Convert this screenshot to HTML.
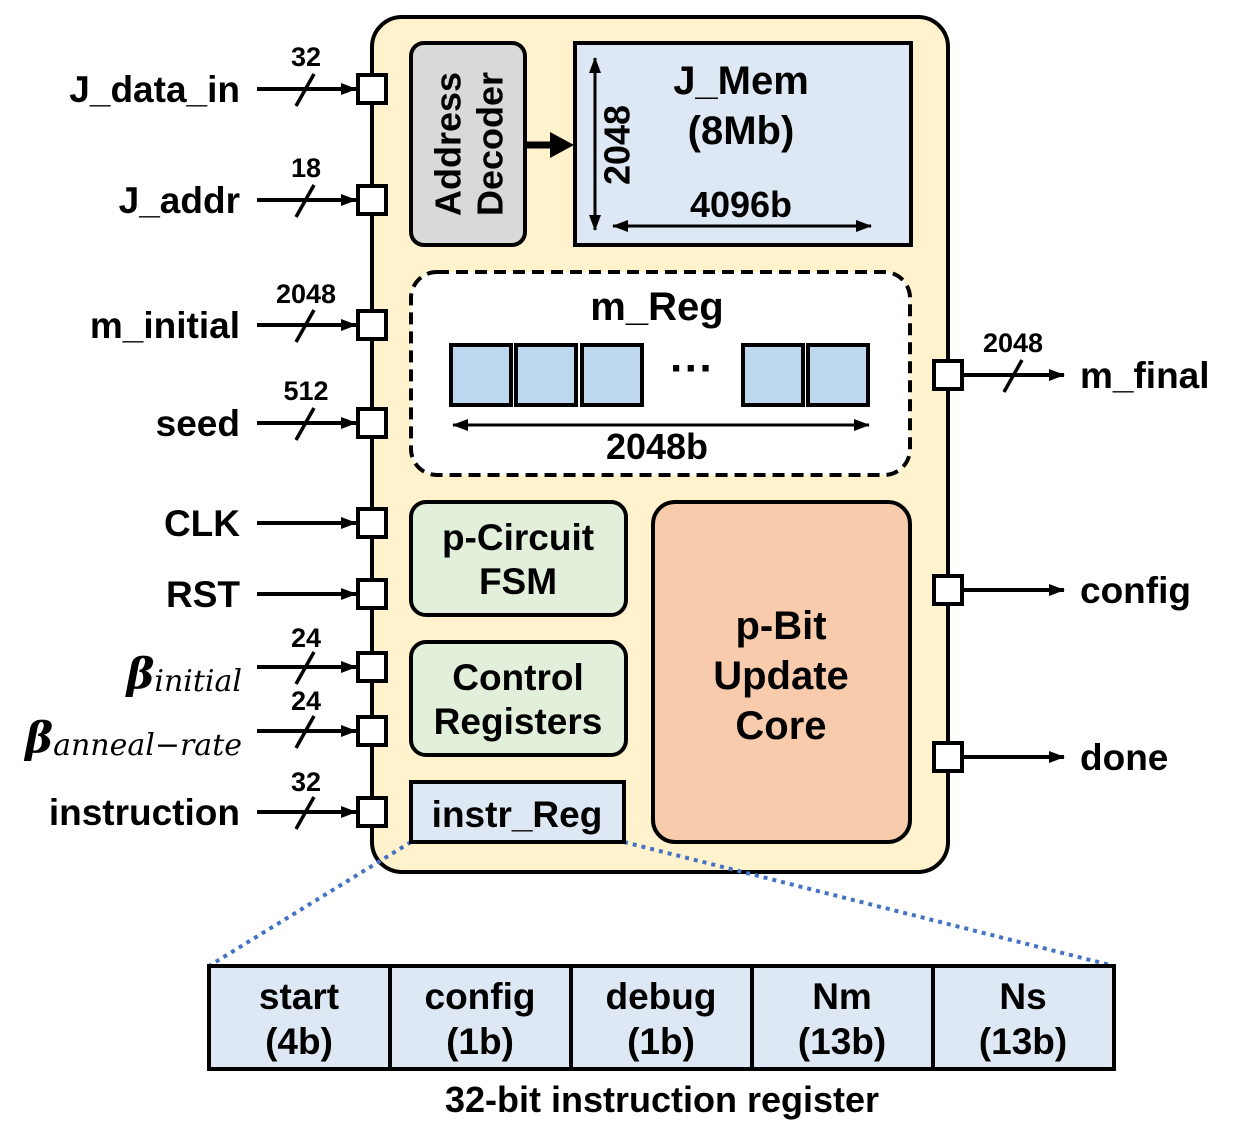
<!DOCTYPE html>
<html><head><meta charset="utf-8"><style>
html,body{margin:0;padding:0;background:#fff}
svg{display:block}
text{font-family:"Liberation Sans",Arial,sans-serif;font-weight:bold;fill:#000}
</style></head><body>
<svg width="1253" height="1130" viewBox="0 0 1253 1130" xmlns="http://www.w3.org/2000/svg">
<defs>
<marker id="a2" viewBox="0 0 16 12" refX="15" refY="6" markerWidth="16" markerHeight="12" orient="auto-start-reverse" markerUnits="userSpaceOnUse"><path d="M0,0 L16,6 L0,12 z" fill="#000"/></marker>
</defs>
<rect x="372" y="17" width="576" height="855" rx="30" fill="#fff2cc" stroke="#000" stroke-width="4"/>
<line x1="411" y1="842" x2="209" y2="966" stroke="#4472c4" stroke-width="4" stroke-dasharray="4,5"/>
<line x1="624" y1="842" x2="1114" y2="966" stroke="#4472c4" stroke-width="4" stroke-dasharray="4,5"/>
<rect x="411" y="43" width="114" height="202" rx="13" fill="#d9d9d9" stroke="#000" stroke-width="4"/>
<text transform="translate(448,144) rotate(-90)" font-size="36" text-anchor="middle" dominant-baseline="central">Address</text>
<text transform="translate(490,144) rotate(-90)" font-size="36" text-anchor="middle" dominant-baseline="central">Decoder</text>
<line x1="525" y1="145" x2="556" y2="145" stroke="#000" stroke-width="7"/>
<path d="M550,132 L574,145 L550,158 z" fill="#000"/>
<rect x="575" y="43" width="336" height="202" fill="#dee8f5" stroke="#000" stroke-width="4"/>
<text x="741" y="94" font-size="40" text-anchor="middle">J_Mem</text>
<text x="741" y="144" font-size="40" text-anchor="middle">(8Mb)</text>
<line x1="595" y1="58" x2="595" y2="230" stroke="#000" stroke-width="3" marker-start="url(#a2)" marker-end="url(#a2)"/>
<text transform="translate(617,145) rotate(-90)" font-size="36" text-anchor="middle" dominant-baseline="central">2048</text>
<line x1="613" y1="226" x2="871" y2="226" stroke="#000" stroke-width="3" marker-start="url(#a2)" marker-end="url(#a2)"/>
<text x="741" y="217" font-size="36" text-anchor="middle">4096b</text>
<rect x="411" y="272" width="499" height="203" rx="26" fill="#fff" stroke="#000" stroke-width="4" stroke-dasharray="12,7"/>
<text x="657" y="320" font-size="40" text-anchor="middle">m_Reg</text>
<g fill="#bdd7ee" stroke="#000" stroke-width="4">
<rect x="451" y="345" width="60" height="60"/><rect x="516" y="345" width="60" height="60"/><rect x="582" y="345" width="60" height="60"/>
<rect x="743" y="345" width="60" height="60"/><rect x="808" y="345" width="60" height="60"/></g>
<text x="692" y="383" font-size="44" text-anchor="middle">···</text>
<line x1="453" y1="425" x2="869" y2="425" stroke="#000" stroke-width="3" marker-start="url(#a2)" marker-end="url(#a2)"/>
<text x="657" y="459" font-size="36" text-anchor="middle">2048b</text>
<rect x="411" y="502" width="215" height="113" rx="15" fill="#e2efda" stroke="#000" stroke-width="4"/>
<text x="518" y="550" font-size="37" text-anchor="middle">p-Circuit</text>
<text x="518" y="594" font-size="37" text-anchor="middle">FSM</text>
<rect x="411" y="642" width="215" height="113" rx="15" fill="#e2efda" stroke="#000" stroke-width="4"/>
<text x="518" y="690" font-size="37" text-anchor="middle">Control</text>
<text x="518" y="734" font-size="37" text-anchor="middle">Registers</text>
<rect x="411" y="782" width="213" height="60" fill="#dee8f5" stroke="#000" stroke-width="4"/>
<text x="517" y="827" font-size="37" text-anchor="middle">instr_Reg</text>
<rect x="653" y="502" width="257" height="340" rx="22" fill="#f8cbad" stroke="#000" stroke-width="4"/>
<text x="781" y="639" font-size="40" text-anchor="middle">p-Bit</text>
<text x="781" y="689" font-size="40" text-anchor="middle">Update</text>
<text x="781" y="739" font-size="40" text-anchor="middle">Core</text>
<g stroke="#000" stroke-width="4">
<line x1="257" y1="89" x2="356" y2="89" marker-end="url(#a2)"/>
<line x1="257" y1="200" x2="356" y2="200" marker-end="url(#a2)"/>
<line x1="257" y1="325" x2="356" y2="325" marker-end="url(#a2)"/>
<line x1="257" y1="423" x2="356" y2="423" marker-end="url(#a2)"/>
<line x1="257" y1="523" x2="356" y2="523" marker-end="url(#a2)"/>
<line x1="257" y1="594" x2="356" y2="594" marker-end="url(#a2)"/>
<line x1="257" y1="667" x2="356" y2="667" marker-end="url(#a2)"/>
<line x1="257" y1="731" x2="356" y2="731" marker-end="url(#a2)"/>
<line x1="257" y1="812" x2="356" y2="812" marker-end="url(#a2)"/>
<line x1="964" y1="375" x2="1064" y2="375" marker-end="url(#a2)"/>
<line x1="964" y1="590" x2="1064" y2="590" marker-end="url(#a2)"/>
<line x1="964" y1="757" x2="1064" y2="757" marker-end="url(#a2)"/>
</g>
<g stroke="#000" stroke-width="3.5">
<line x1="296" y1="106" x2="314" y2="74"/>
<line x1="296" y1="217" x2="314" y2="185"/>
<line x1="296" y1="342" x2="314" y2="310"/>
<line x1="296" y1="440" x2="314" y2="408"/>
<line x1="296" y1="684" x2="314" y2="652"/>
<line x1="296" y1="748" x2="314" y2="716"/>
<line x1="296" y1="829" x2="314" y2="797"/>
<line x1="1004" y1="392" x2="1022" y2="360"/>
</g>
<g fill="#fff" stroke="#000" stroke-width="4">
<rect x="358" y="75" width="28" height="28"/><rect x="358" y="186" width="28" height="28"/>
<rect x="358" y="311" width="28" height="28"/><rect x="358" y="409" width="28" height="28"/>
<rect x="358" y="509" width="28" height="28"/><rect x="358" y="580" width="28" height="28"/>
<rect x="358" y="653" width="28" height="28"/><rect x="358" y="717" width="28" height="28"/>
<rect x="358" y="798" width="28" height="28"/>
<rect x="934" y="361" width="28" height="28"/><rect x="934" y="576" width="28" height="28"/><rect x="934" y="743" width="28" height="28"/>
</g>
<g font-size="27" text-anchor="middle">
<text x="306" y="66">32</text><text x="306" y="177">18</text><text x="306" y="303">2048</text>
<text x="306" y="400">512</text><text x="306" y="647">24</text><text x="306" y="710">24</text>
<text x="306" y="791">32</text><text x="1013" y="352">2048</text>
</g>
<g font-size="37" text-anchor="end">
<text x="240" y="102">J_data_in</text><text x="240" y="213">J_addr</text>
<text x="240" y="338">m_initial</text><text x="240" y="436">seed</text>
<text x="240" y="536">CLK</text><text x="240" y="607">RST</text>
<text x="240" y="825">instruction</text>
</g>
<text x="242" y="688" text-anchor="end" style="font-family:'DejaVu Serif','Liberation Serif',serif;font-style:italic;font-weight:bold" font-size="42">β<tspan font-size="30" font-weight="normal" dy="3">initial</tspan></text>
<text x="242" y="752" text-anchor="end" style="font-family:'DejaVu Serif','Liberation Serif',serif;font-style:italic;font-weight:bold" font-size="42">β<tspan font-size="30" font-weight="normal" dy="3">anneal−rate</tspan></text>
<g font-size="37">
<text x="1080" y="388">m_final</text><text x="1080" y="603">config</text><text x="1080" y="770">done</text>
</g>
<rect x="209" y="966" width="905" height="103" fill="#dee8f5" stroke="#000" stroke-width="4"/>
<g stroke="#000" stroke-width="4">
<line x1="390" y1="966" x2="390" y2="1069"/><line x1="571" y1="966" x2="571" y2="1069"/>
<line x1="752" y1="966" x2="752" y2="1069"/><line x1="933" y1="966" x2="933" y2="1069"/>
</g>
<g font-size="37" text-anchor="middle">
<text x="299" y="1009">start</text><text x="299" y="1054">(4b)</text>
<text x="480" y="1009">config</text><text x="480" y="1054">(1b)</text>
<text x="661" y="1009">debug</text><text x="661" y="1054">(1b)</text>
<text x="842" y="1009">Nm</text><text x="842" y="1054">(13b)</text>
<text x="1023" y="1009">Ns</text><text x="1023" y="1054">(13b)</text>
</g>
<text x="662" y="1112" font-size="36" text-anchor="middle">32-bit instruction register</text>
</svg>
</body></html>
